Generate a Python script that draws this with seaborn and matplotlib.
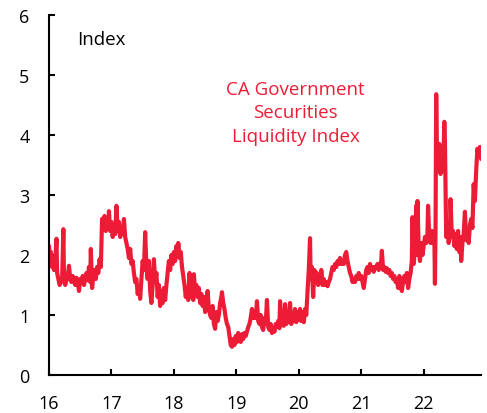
import matplotlib
matplotlib.use("Agg")
import matplotlib.pyplot as plt
import seaborn as sns
import pandas as pd

# Decimal year (e.g. 16.5 = mid-2016) and index values
years = [
    16.00, 16.02, 16.03, 16.05, 16.06, 16.08, 16.10, 16.12, 16.13, 16.15,
    16.17, 16.19, 16.21, 16.23, 16.24, 16.26, 16.28, 16.30, 16.32, 16.34,
    16.36, 16.38, 16.40, 16.42, 16.44, 16.46, 16.48, 16.50, 16.52, 16.54,
    16.56, 16.58, 16.60, 16.62, 16.64, 16.66, 16.67, 16.69, 16.71, 16.73,
    16.75, 16.77, 16.79, 16.81, 16.83, 16.85, 16.87, 16.89, 16.91, 16.93,
    16.95, 16.96, 16.98, 17.00, 17.02, 17.04, 17.06, 17.08, 17.10, 17.12,
    17.14, 17.16, 17.18, 17.20, 17.22, 17.24, 17.26, 17.28, 17.30, 17.32,
    17.34, 17.36, 17.38, 17.40, 17.42, 17.44, 17.46, 17.48, 17.50, 17.52,
    17.54, 17.56, 17.58, 17.60, 17.62, 17.64, 17.66, 17.68, 17.70, 17.72,
    17.74, 17.76, 17.78, 17.80, 17.82, 17.84, 17.86, 17.88, 17.90, 17.92,
    17.94, 17.96, 17.98, 18.00, 18.02, 18.04, 18.06, 18.07, 18.09, 18.11,
    18.13, 18.15, 18.17, 18.19, 18.21, 18.23, 18.25, 18.27, 18.29, 18.31,
    18.32, 18.34, 18.36, 18.38, 18.40, 18.42, 18.44, 18.46, 18.48, 18.50,
    18.52, 18.54, 18.56, 18.58, 18.60, 18.62, 18.64, 18.66, 18.68, 18.70,
    18.72, 18.74, 18.76, 18.77, 18.79, 18.81, 18.83, 18.85, 18.87, 18.89,
    18.91, 18.93, 18.95, 18.97, 18.99, 19.01, 19.03, 19.05, 19.07, 19.09,
    19.11, 19.13, 19.15, 19.17, 19.19, 19.21, 19.23, 19.25, 19.27, 19.29,
    19.31, 19.33, 19.35, 19.37, 19.39, 19.41, 19.43, 19.45, 19.47, 19.49,
    19.51, 19.53, 19.55, 19.57, 19.59, 19.61, 19.63, 19.65, 19.67, 19.69,
    19.70, 19.72, 19.74, 19.76, 19.78, 19.80, 19.82, 19.84, 19.86, 19.88,
    19.90, 19.92, 19.94, 19.96, 19.98, 20.00, 20.02, 20.04, 20.06, 20.08,
    20.10, 20.12, 20.14, 20.16, 20.18, 20.19, 20.21, 20.23, 20.25, 20.27,
    20.29, 20.31, 20.33, 20.35, 20.36, 20.38, 20.40, 20.42, 20.44, 20.46,
    20.48, 20.50, 20.52, 20.54, 20.56, 20.58, 20.60, 20.62, 20.64, 20.66,
    20.68, 20.70, 20.72, 20.74, 20.76, 20.78, 20.80, 20.82, 20.84, 20.86,
    20.88, 20.90, 20.92, 20.94, 20.96, 20.98, 21.00, 21.02, 21.04, 21.06,
    21.08, 21.10, 21.12, 21.14, 21.16, 21.18, 21.20, 21.22, 21.24, 21.26,
    21.28, 21.30, 21.32, 21.33, 21.35, 21.37, 21.39, 21.41, 21.43, 21.45,
    21.47, 21.49, 21.51, 21.53, 21.55, 21.57, 21.59, 21.61, 21.63, 21.65,
    21.67, 21.69, 21.71, 21.73, 21.75, 21.77, 21.79, 21.81, 21.82, 21.84,
    21.86, 21.88, 21.89, 21.90, 21.92, 21.94, 21.96, 21.98, 22.00, 22.02,
    22.04, 22.06, 22.07, 22.09, 22.11, 22.13, 22.15, 22.17, 22.18, 22.19,
    22.20, 22.21, 22.23, 22.25, 22.27, 22.29, 22.31, 22.33, 22.34, 22.36,
    22.38, 22.40, 22.42, 22.43, 22.45, 22.47, 22.49, 22.51, 22.53, 22.55,
    22.57, 22.59, 22.60, 22.62, 22.64, 22.66, 22.68, 22.70, 22.72, 22.74,
    22.76, 22.78, 22.80, 22.82, 22.84, 22.86, 22.88, 22.90, 22.92,
]
index_values = [
    2.15, 1.85, 2.05, 1.80, 1.95, 1.75, 1.90, 2.27, 1.70, 1.60,
    1.50, 1.55, 1.60, 2.43, 1.60, 1.50, 1.58, 1.65, 1.82, 1.60,
    1.55, 1.65, 1.60, 1.50, 1.62, 1.55, 1.40, 1.60, 1.55, 1.65,
    1.50, 1.60, 1.70, 1.58, 1.80, 1.55, 2.10, 1.45, 1.65, 1.75,
    1.60, 1.80, 1.70, 1.93, 1.80, 2.60, 2.50, 2.65, 2.40, 2.60,
    2.45, 2.73, 2.40, 2.55, 2.30, 2.50, 2.35, 2.82, 2.40, 2.55,
    2.30, 2.45, 2.35, 2.60, 2.30, 2.20, 2.10, 1.95, 2.10, 1.85,
    1.90, 1.70, 1.55, 1.60, 1.35, 1.45, 1.27, 1.60, 1.90, 1.75,
    2.38, 1.80, 1.60, 1.90, 1.40, 1.20, 1.50, 1.93, 1.55, 1.70,
    1.30, 1.50, 1.15, 1.40, 1.20, 1.45, 1.25, 1.50, 1.70, 1.90,
    1.75, 2.00, 1.85, 2.05, 1.90, 2.15, 2.00, 2.20, 1.95, 2.05,
    1.80, 1.65, 1.50, 1.30, 1.45, 1.25, 1.70, 1.30, 1.45, 1.25,
    1.68, 1.40, 1.50, 1.30, 1.45, 1.20, 1.35, 1.15, 1.30, 1.05,
    1.20, 1.40, 1.10, 1.00, 0.95, 1.15, 0.85, 0.77, 1.05, 0.90,
    1.00, 1.20, 1.30, 1.38, 1.20, 1.10, 0.95, 0.85, 0.80, 0.65,
    0.50, 0.47, 0.60, 0.50, 0.65, 0.55, 0.70, 0.62, 0.55, 0.68,
    0.60, 0.70, 0.65, 0.72, 0.80, 0.85, 0.95, 1.10, 0.95, 1.05,
    0.95, 1.23, 0.90, 0.85, 1.00, 0.80, 0.75, 0.95, 0.85, 1.25,
    0.80, 0.75, 0.85, 0.70, 0.78, 0.72, 0.85, 0.80, 0.90, 0.78,
    1.23, 0.85, 0.95, 0.82, 1.18, 0.85, 0.95, 0.88, 1.20, 0.85,
    1.00, 0.90, 1.10, 0.88, 1.05, 0.92, 1.10, 0.90, 1.05, 0.88,
    1.10, 1.00, 1.40, 1.75, 2.28, 1.60, 1.80, 1.30, 1.75, 1.55,
    1.70, 1.50, 1.60, 1.55, 1.75, 1.50, 1.60, 1.50, 1.55, 1.48,
    1.55, 1.60, 1.70, 1.80, 1.75, 1.85, 1.80, 1.90, 1.85, 1.95,
    1.85, 1.90, 1.85, 2.00, 2.05, 1.90, 1.80, 1.70, 1.65, 1.55,
    1.60, 1.55, 1.65, 1.60, 1.70, 1.60, 1.65, 1.55, 1.45, 1.60,
    1.75, 1.80, 1.70, 1.85, 1.75, 1.80, 1.72, 1.80, 1.78, 1.85,
    1.75, 1.82, 1.90, 2.07, 1.75, 1.80, 1.72, 1.78, 1.70, 1.75,
    1.65, 1.70, 1.60, 1.65, 1.55, 1.60, 1.45, 1.65, 1.50, 1.40,
    1.55, 1.65, 1.55, 1.70, 1.45, 1.60, 1.70, 1.90, 2.63, 1.85,
    2.10, 2.82, 2.00, 2.90, 2.10, 1.90, 2.20, 2.00, 2.15, 2.30,
    2.20, 2.35, 2.82, 2.25, 2.20, 2.40, 2.20, 2.35, 1.52, 2.50,
    4.68, 3.80, 3.40, 3.85, 3.35, 3.70, 3.40, 4.22, 3.90, 2.30,
    2.45, 2.20, 2.35, 2.93, 2.30, 2.40, 2.15, 2.35, 2.10, 2.40,
    2.05, 2.30, 1.90, 2.20, 2.35, 2.72, 2.25, 2.40, 2.20, 2.50,
    2.60, 2.45, 3.18, 2.90, 3.40, 3.77, 3.65, 3.80, 3.60,
]
x_ticks = [16, 17, 18, 19, 20, 21, 22]
x_tick_labels = ["16", "17", "18", "19", "20", "21", "22"]
y_ticks = [0, 1, 2, 3, 4, 5, 6]

RED = "#ED1C36"

sns.set_style("ticks")
plt.rcParams["font.family"] = ["Open Sans", "DejaVu Sans"]

df = pd.DataFrame({"year": years, "value": index_values})

fig = plt.figure(figsize=(4.87, 4.14), dpi=100)
ax = fig.add_axes([0.1006, 0.0918, 0.8874, 0.8696])

sns.lineplot(data=df, x="year", y="value", ax=ax, color=RED, linewidth=3.0,
             estimator=None, sort=False)

ax.set_xlim(16, 22.92)
ax.set_ylim(0, 6)
ax.set_xticks(x_ticks)
ax.set_xticklabels(x_tick_labels)
ax.set_yticks(y_ticks)
ax.set_xlabel("")
ax.set_ylabel("")

for side in ["top", "right"]:
    ax.spines[side].set_visible(False)
for side in ["left", "bottom"]:
    ax.spines[side].set_linewidth(1.5)
    ax.spines[side].set_color("black")

ax.tick_params(axis="both", direction="in", length=4.5, width=1.5,
               labelsize=13, colors="black")
ax.tick_params(axis="x", pad=14)
ax.tick_params(axis="y", pad=14)

ax.text(16.45, 5.6, "Index", fontsize=13.5, color="black",
        ha="left", va="center")
ax.text(19.95, 4.38, "CA Government\nSecurities\nLiquidity Index",
        fontsize=13.5, color=RED, ha="center", va="center", linespacing=1.4)

fig.savefig("out.png", dpi=100)
